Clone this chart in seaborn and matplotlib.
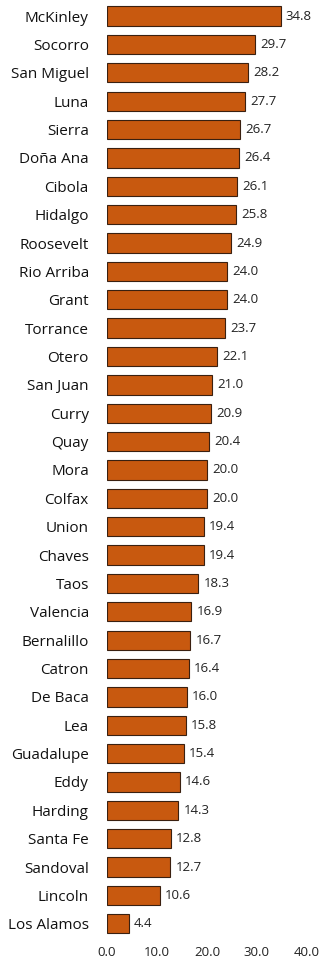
import pandas as pd
import matplotlib.pyplot as plt
import seaborn as sns

counties = ["McKinley", "Socorro", "San Miguel", "Luna", "Sierra", "Doña Ana", "Cibola",
            "Hidalgo", "Roosevelt", "Rio Arriba", "Grant", "Torrance", "Otero", "San Juan",
            "Curry", "Quay", "Mora", "Colfax", "Union", "Chaves", "Taos", "Valencia",
            "Bernalillo", "Catron", "De Baca", "Lea", "Guadalupe", "Eddy", "Harding",
            "Santa Fe", "Sandoval", "Lincoln", "Los Alamos"]
values = [34.8, 29.7, 28.2, 27.7, 26.7, 26.4, 26.1, 25.8, 24.9, 24.0, 24.0, 23.7, 22.1,
          21.0, 20.9, 20.4, 20.0, 20.0, 19.4, 19.4, 18.3, 16.9, 16.7, 16.4, 16.0, 15.8,
          15.4, 14.6, 14.3, 12.8, 12.7, 10.6, 4.4]
xticks = [0, 10, 20, 30, 40]

df = pd.DataFrame({"county": counties, "value": values})

sns.set_style("white")
plt.rcParams['font.family'] = ['Open Sans', 'DejaVu Sans']

fig = plt.figure(figsize=(3.23, 9.65), dpi=100)
ax = fig.add_axes([0.331, 0.028, 0.619, 0.970])
sns.barplot(data=df, x="value", y="county", color="#C8590F", saturation=1,
            edgecolor="#3a2010", linewidth=0.8, width=0.68, ax=ax)

for i, v in enumerate(values):
    ax.text(v + 1.0, i, f"{v:.1f}", va="center", ha="left", fontsize=9.5, color="#222222")

ax.set_xlim(0, 40)
ax.set_xticks(xticks)
ax.set_xticklabels([f"{t:.1f}" for t in xticks], fontsize=9.5, color="#222222")
ax.tick_params(axis="y", labelsize=11, colors="#111111", length=0, pad=13)
ax.tick_params(axis="x", length=0, pad=6)
ax.set_xlabel("")
ax.set_ylabel("")
sns.despine(ax=ax, left=True, bottom=True)

fig.savefig("out.png", dpi=100)
